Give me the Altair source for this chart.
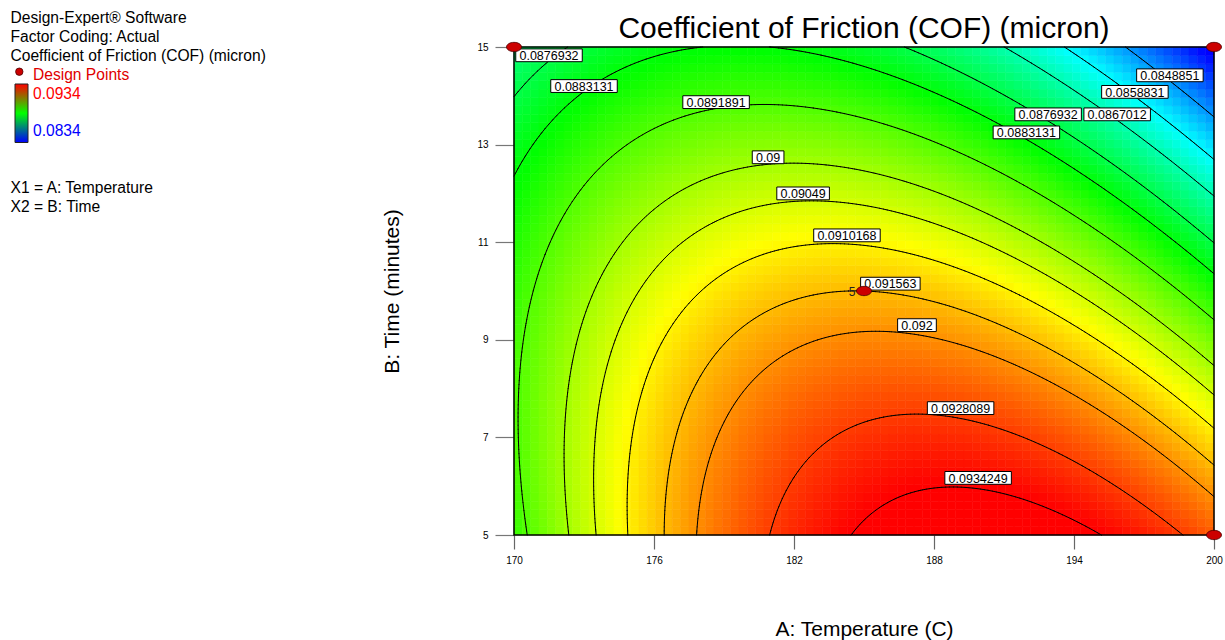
import altair as alt
import numpy as np
import pandas as pd

alt.data_transformers.disable_max_rows()

# ---- factor ranges and axis ticks ------------------------------------------
TEMP_RANGE = [170.0, 200.0]          # A: Temperature (C)
TIME_RANGE = [5.0, 15.0]             # B: Time (minutes)
TEMP_TICKS = [170, 176, 182, 188, 194, 200]
TIME_TICKS = [5, 7, 9, 11, 13, 15]

# ---- response model, coded factors A=(Temp-185)/15, B=(Time-10)/5 ----------
MODEL_TERMS = ["Intercept", "A", "B", "AB", "A^2", "B^2"]
MODEL_COEFS = [0.091563, -0.000125, -0.0027645, -0.001915, -0.00279, -0.000833]

# colour range of the response (legend)
COLOR_LOW = 0.0834
COLOR_HIGH = 0.0934

# ---- contour levels ---------------------------------------------------------
CONTOUR_LEVELS = [0.0848851, 0.0858831, 0.0867012, 0.0876932, 0.0883131,
                  0.0891891, 0.09, 0.09049, 0.0910168, 0.091563, 0.092,
                  0.0928089, 0.0934249]

# contour label anchors (level, temperature, time)
LABEL_LEVEL = [0.0876932, 0.0883131, 0.0891891, 0.09, 0.09049, 0.0910168,
               0.091563, 0.092, 0.0928089, 0.0934249, 0.0883131, 0.0876932,
               0.0867012, 0.0858831, 0.0848851]
LABEL_TEMP = [171.50, 173.00, 178.66, 180.89, 182.39, 184.27, 186.13, 187.27,
              189.14, 189.89, 191.96, 192.89, 195.85, 196.61, 198.11]
LABEL_TIME = [14.83, 14.20, 13.87, 12.74, 12.00, 11.14, 10.15, 9.30,
              7.60, 6.17, 13.25, 13.62, 13.62, 14.08, 14.42]

# ---- design points ----------------------------------------------------------
DESIGN_TEMP = [170, 200, 200, 185]
DESIGN_TIME = [15, 15, 5, 10]
DESIGN_RUNS = [1, 1, 1, 5]

FONT = "Liberation Sans"
PLOT_W, PLOT_H = 700, 488
PAD = {"left": 514, "top": 47, "right": 11, "bottom": 105}


def predict(temp, time):
    a = (np.asarray(temp) - 185.0) / 15.0
    b = (np.asarray(time) - 10.0) / 5.0
    c0, cA, cB, cAB, cAA, cBB = MODEL_COEFS
    return c0 + cA * a + cB * b + cAB * a * b + cAA * a * a + cBB * b * b


# ---- heat-map cells ---------------------------------------------------------
NX, NY = 84, 58
tx = np.linspace(TEMP_RANGE[0], TEMP_RANGE[1], NX + 1)
ty = np.linspace(TIME_RANGE[0], TIME_RANGE[1], NY + 1)
gx0, gy0 = np.meshgrid(tx[:-1], ty[:-1])
gx1, gy1 = np.meshgrid(tx[1:], ty[1:])
cells = pd.DataFrame({
    "T0": gx0.ravel().round(4), "T1": gx1.ravel().round(4),
    "t0": gy0.ravel().round(4), "t1": gy1.ravel().round(4),
})
cells["cof"] = predict((cells.T0 + cells.T1) / 2, (cells.t0 + cells.t1) / 2).round(7)


# ---- contour segments (marching squares) ------------------------------------
def contour_segments(Z, xs, ys, level):
    segs = []
    zmin = np.minimum.reduce([Z[:-1, :-1], Z[1:, :-1], Z[:-1, 1:], Z[1:, 1:]])
    zmax = np.maximum.reduce([Z[:-1, :-1], Z[1:, :-1], Z[:-1, 1:], Z[1:, 1:]])
    jj, ii = np.nonzero((zmin < level) & (zmax > level))
    for j, i in zip(jj, ii):
        corners = [(i, j), (i + 1, j), (i + 1, j + 1), (i, j + 1)]
        pts = []
        for k in range(4):
            (ia, ja), (ib, jb) = corners[k], corners[(k + 1) % 4]
            za, zb = Z[ja, ia] - level, Z[jb, ib] - level
            if (za < 0) != (zb < 0):
                f = za / (za - zb)
                pts.append((xs[ia] + f * (xs[ib] - xs[ia]),
                            ys[ja] + f * (ys[jb] - ys[ja])))
        for p in range(0, len(pts) - 1, 2):
            segs.append((pts[p][0], pts[p][1], pts[p + 1][0], pts[p + 1][1]))
    return segs


fx = np.linspace(TEMP_RANGE[0], TEMP_RANGE[1], 181)
fy = np.linspace(TIME_RANGE[0], TIME_RANGE[1], 121)
FX, FY = np.meshgrid(fx, fy)
FZ = predict(FX, FY)
rows = []
for lev in CONTOUR_LEVELS:
    for s in contour_segments(FZ, fx, fy, lev):
        rows.append({"level": lev, "x1": round(float(s[0]), 4),
                     "y1": round(float(s[1]), 4),
                     "x2": round(float(s[2]), 4), "y2": round(float(s[3]), 4)})
segments = pd.DataFrame(rows)

labels = pd.DataFrame({"level": LABEL_LEVEL, "T": LABEL_TEMP, "t": LABEL_TIME})
labels["text"] = labels["level"].map(str)


def box_width(s, size=12.5):
    return sum(0.556 if c.isdigit() else 0.278 for c in s) * size + 7.4


labels["w"] = labels["text"].map(box_width).round(1)

design = pd.DataFrame({"T": DESIGN_TEMP, "t": DESIGN_TIME, "runs": DESIGN_RUNS})
frame = pd.DataFrame({"T0": [TEMP_RANGE[0]], "T1": [TEMP_RANGE[1]],
                      "t0": [TIME_RANGE[0]], "t1": [TIME_RANGE[1]]})

# ---- scales and axes --------------------------------------------------------
xs = alt.Scale(domain=TEMP_RANGE, nice=False, zero=False)
ys = alt.Scale(domain=TIME_RANGE, nice=False, zero=False)
cstops = [COLOR_LOW + k * (COLOR_HIGH - COLOR_LOW) / 4 for k in range(5)]
cscale = alt.Scale(domain=cstops,
                   range=["#0000ff", "#00ffff", "#00ff00", "#ffff00", "#ff0000"],
                   interpolate="rgb", clamp=True)

x_axis = alt.Axis(values=TEMP_TICKS, title="A: Temperature (C)", grid=False,
                  domain=False, tickSize=14, tickColor="#666666", tickWidth=1.2,
                  labelFontSize=10, labelPadding=6, labelColor="#000000",
                  labelFlush=False, labelOverlap=False,
                  labelFont=FONT, titleFont=FONT, titleFontSize=21,
                  titleFontWeight="normal", titleColor="#000000",
                  titleX=PLOT_W / 2, titleY=100.5, titleAlign="center",
                  titleBaseline="alphabetic")
y_axis = alt.Axis(values=TIME_TICKS, title="B: Time (minutes)", grid=False,
                  domain=False, tickSize=19, tickColor="#777777", tickWidth=1.2,
                  labelFontSize=10, labelPadding=7, labelColor="#000000",
                  labelFlush=False, labelOverlap=False,
                  labelFont=FONT, titleFont=FONT, titleFontSize=21,
                  titleFontWeight="normal", titleColor="#000000",
                  titleAngle=270, titleX=-116, titleY=PLOT_H / 2,
                  titleAlign="center", titleBaseline="alphabetic")


def X(field):
    return alt.X(field, scale=xs, axis=x_axis)


def Y(field):
    return alt.Y(field, scale=ys, axis=y_axis)


heat = alt.Chart(cells).mark_rect(strokeWidth=0.6).encode(
    x=X("T0:Q"), x2="T1:Q", y=Y("t0:Q"), y2="t1:Q",
    color=alt.Color("cof:Q", scale=cscale, legend=None),
    stroke=alt.Stroke("cof:Q", scale=cscale, legend=None),
)

lines = alt.Chart(segments).mark_rule(color="black", strokeWidth=1,
                                      strokeCap="round").encode(
    x=X("x1:Q"), y=Y("y1:Q"), x2="x2:Q", y2="y2:Q",
)

border = alt.Chart(frame).mark_rect(filled=False, stroke="black",
                                    strokeWidth=1.5).encode(
    x=X("T0:Q"), x2="T1:Q", y=Y("t0:Q"), y2="t1:Q",
)

boxes = []
for w, grp in labels.groupby("w"):
    w = float(w)
    boxes.append(
        alt.Chart(grp).mark_rect(fill="white", stroke="black", strokeWidth=1,
                                 xOffset=-w / 2, x2Offset=w / 2,
                                 yOffset=-6.4, y2Offset=6.4).encode(
            x=X("T:Q"), x2="T:Q", y=Y("t:Q"), y2="t:Q",
        )
    )

label_text = alt.Chart(labels).mark_text(font=FONT, fontSize=12.5, color="black",
                                         align="center", baseline="middle",
                                         dy=0.8).encode(
    x=X("T:Q"), y=Y("t:Q"), text="text:N",
)

ELLIPSE = "M-1,0A1,0.62,0,1,0,1,0A1,0.62,0,1,0,-1,0Z"
points = alt.Chart(design).mark_point(shape=ELLIPSE, size=225, filled=True,
                                      fill="#cc0000", stroke="#4a0000",
                                      strokeWidth=0.8, opacity=1).encode(
    x=X("T:Q"), y=Y("t:Q"),
)
runs_text = alt.Chart(design).transform_filter("datum.runs > 1").mark_text(
    font=FONT, fontSize=12, color="#222222", align="right",
    baseline="alphabetic", dx=-8.5, dy=5.3).encode(
    x=X("T:Q"), y=Y("t:Q"), text="runs:N",
)


# ---- title and side legend (positions in page pixels) -----------------------
def page_text(txt, px, py, size, color="#000000", align="left"):
    return alt.Chart(alt.Data(values=[{}])).mark_text(
        text=txt, font=FONT, fontSize=size, color=color, align=align,
        baseline="alphabetic").encode(
        x=alt.value(px - PAD["left"]), y=alt.value(py - PAD["top"]))


title = page_text("Coefficient of Friction (COF) (micron)", 864, 37.5, 30,
                  align="center")

LEG = 15.6
legend_items = [
    page_text("Design-Expert\u00ae Software", 10.5, 22.7, LEG),
    page_text("Factor Coding: Actual", 10.5, 41.7, LEG),
    page_text("Coefficient of Friction (COF) (micron)", 10.5, 61, LEG),
    page_text("Design Points", 33, 80, LEG, color="#e00000"),
    page_text(f"{COLOR_HIGH:.4f}", 33, 99, LEG, color="#ff0000"),
    page_text(f"{COLOR_LOW:.4f}", 33, 135.7, LEG, color="#0000ff"),
    page_text("X1 = A: Temperature", 10.5, 192.7, LEG),
    page_text("X2 = B: Time", 10.5, 212, LEG),
]

legend_dot = alt.Chart(alt.Data(values=[{}])).mark_point(
    shape="circle", size=55, filled=True, fill="#cc0000", stroke="#4a0000",
    strokeWidth=0.8, opacity=1).encode(
    x=alt.value(19.3 - PAD["left"]), y=alt.value(71.7 - PAD["top"]))

legend_bar = alt.Chart(alt.Data(values=[{}])).mark_rect(
    fill=alt.Gradient(gradient="linear",
                      stops=[alt.GradientStop(color="#ff0000", offset=0),
                             alt.GradientStop(color="#00ff00", offset=0.5),
                             alt.GradientStop(color="#0000ff", offset=1)],
                      x1=0, x2=0, y1=0, y2=1),
    stroke="#222222", strokeWidth=1).encode(
    x=alt.value(15 - PAD["left"]), x2=alt.value(28 - PAD["left"]),
    y=alt.value(84 - PAD["top"]), y2=alt.value(142.5 - PAD["top"]))

chart = alt.layer(
    heat, lines, border, *boxes, label_text, points, runs_text, title,
    legend_bar, legend_dot, *legend_items,
).properties(
    width=PLOT_W, height=PLOT_H,
    autosize=alt.AutoSizeParams(type="none"),
    padding=PAD,
    background="white",
).configure(font=FONT).configure_view(strokeWidth=0)

chart.save("out.html", embed_options={"renderer": "svg", "actions": False})
